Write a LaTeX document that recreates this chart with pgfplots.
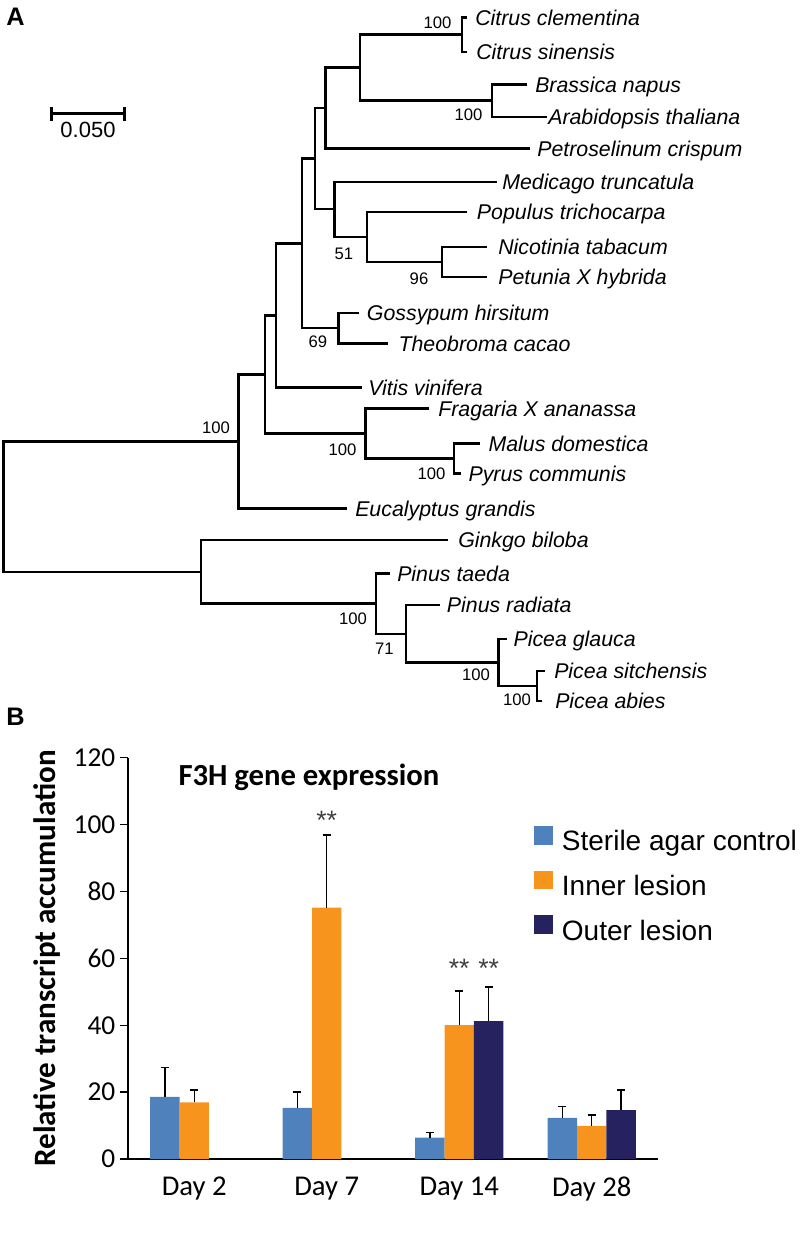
\documentclass[border=0pt]{standalone}
\usepackage{fontspec}
\setmainfont{Liberation Sans}
\newfontfamily\calibri{Carlito}
\usepackage{pgfplots}
\pgfplotsset{compat=1.18}

\definecolor{ctrlblue}{RGB}{79,129,189}
\definecolor{innerorange}{RGB}{247,148,30}
\definecolor{outernavy}{RGB}{38,34,96}

\begin{document}
\begin{tikzpicture}[
  br/.style={black, solid, mark=none, line width=1.8pt, line join=miter},
  tree/.style={font=\fontsize{16}{16}\selectfont\itshape, anchor=base west, inner sep=0pt, yshift=-5.8pt},
  boot/.style={font=\fontsize{12.5}{12.5}\selectfont, inner sep=0pt},
]
\path[use as bounding box] (0,0) rectangle (600pt,-924.75pt);

% panel A: tree, drawn in pixel units
\begin{axis}[
  at={(0pt,0pt)}, anchor=north west,
  scale only axis, width=600pt, height=540pt,
  xmin=0, xmax=800, ymin=0, ymax=720, y dir=reverse,
  enlargelimits=false, hide axis, clip=false,
]
% brackets: (child1) (node,y1) (node,y2) (child2)
\addplot[br] coordinates {(467,17.3)(462,17.3)(462,51.7)(467,51.7)};
\addplot[br] coordinates {(526.7,84.3)(491.7,84.3)(491.7,116.7)(546.7,116.7)};
\addplot[br] coordinates {(462,34.5)(360,34.5)(360,100.5)(491.7,100.5)};
\addplot[br] coordinates {(360,67.5)(325.5,67.5)(325.5,148.3)(530,148.3)};
\addplot[br] coordinates {(486.7,246.7)(441.7,246.7)(441.7,276.7)(486.7,276.7)};
\addplot[br] coordinates {(466.7,211.7)(366.7,211.7)(366.7,261.7)(441.7,261.7)};
\addplot[br] coordinates {(496.7,181.7)(334.5,181.7)(334.5,236.7)(366.7,236.7)};
\addplot[br] coordinates {(325.5,107.9)(315,107.9)(315,209.2)(334.5,209.2)};
\addplot[br] coordinates {(359.3,312.7)(338.3,312.7)(338.3,343.3)(388.3,343.3)};
\addplot[br] coordinates {(315,158.6)(301.7,158.6)(301.7,328)(338.3,328)};
\addplot[br] coordinates {(301.7,243.3)(276,243.3)(276,387.3)(361.7,387.3)};
\addplot[br] coordinates {(480,443.3)(454,443.3)(454,473.3)(460.7,473.3)};
\addplot[br] coordinates {(429.3,408.3)(365.5,408.3)(365.5,458.3)(454,458.3)};
\addplot[br] coordinates {(276,315.3)(265,315.3)(265,433.3)(365.5,433.3)};
\addplot[br] coordinates {(265,374.3)(238.3,374.3)(238.3,508.3)(346.7,508.3)};
\addplot[br] coordinates {(545,671)(537,671)(537,701)(542,701)};
\addplot[br] coordinates {(506.7,639)(498.3,639)(498.3,686)(537,686)};
\addplot[br] coordinates {(440,605)(406,605)(406,662.5)(498.3,662.5)};
\addplot[br] coordinates {(390,573.3)(376,573.3)(376,633.8)(406,633.8)};
\addplot[br] coordinates {(448.3,540)(200.7,540)(200.7,603.5)(376,603.5)};
\addplot[br] coordinates {(238.3,441.3)(3.3,441.3)(3.3,571.8)(200.7,571.8)};
% scale bar
\addplot[br, line width=2.2pt] coordinates {(51.7,113.3)(124.3,113.3)};
\addplot[br, line width=2.2pt] coordinates {(51.7,106.5)(51.7,120.5)};
\addplot[br, line width=2.2pt] coordinates {(124.3,106.5)(124.3,120.5)};
\node[font=\fontsize{16.5}{16.5}\selectfont, inner sep=0pt] at (axis cs:88,129.5) {0.050};

\node[tree] at (axis cs:475,17.3) {Citrus clementina};
\node[tree] at (axis cs:476,51.7) {Citrus sinensis};
\node[tree] at (axis cs:535,84.3) {Brassica napus};
\node[tree] at (axis cs:548,116.7) {Arabidopsis thaliana};
\node[tree] at (axis cs:537,148.3) {Petroselinum crispum};
\node[tree] at (axis cs:502,181.7) {Medicago truncatula};
\node[tree] at (axis cs:476.7,211.7) {Populus trichocarpa};
\node[tree] at (axis cs:498,246.7) {Nicotinia tabacum};
\node[tree] at (axis cs:498,276.7) {Petunia X hybrida};
\node[tree] at (axis cs:366.7,312.7) {Gossypum hirsitum};
\node[tree] at (axis cs:398.3,343.3) {Theobroma cacao};
\node[tree] at (axis cs:368,387.3) {Vitis vinifera};
\node[tree] at (axis cs:438,408.3) {Fragaria X ananassa};
\node[tree] at (axis cs:488.3,443.3) {Malus domestica};
\node[tree] at (axis cs:468.3,473.3) {Pyrus communis};
\node[tree] at (axis cs:355,508.3) {Eucalyptus grandis};
\node[tree] at (axis cs:458,540) {Ginkgo biloba};
\node[tree] at (axis cs:397,573.3) {Pinus taeda};
\node[tree] at (axis cs:446.7,605) {Pinus radiata};
\node[tree] at (axis cs:513.3,639) {Picea glauca};
\node[tree] at (axis cs:554,671) {Picea sitchensis};
\node[tree] at (axis cs:555,701) {Picea abies};

\node[boot] at (axis cs:437.5,22.5) {100};
\node[boot] at (axis cs:468.5,115) {100};
\node[boot] at (axis cs:344,253.5) {51};
\node[boot] at (axis cs:419,278.3) {96};
\node[boot] at (axis cs:318,341.7) {69};
\node[boot] at (axis cs:216,427.3) {100};
\node[boot] at (axis cs:342.5,449.3) {100};
\node[boot] at (axis cs:431.5,473.3) {100};
\node[boot] at (axis cs:353,618.3) {100};
\node[boot] at (axis cs:384.5,648.3) {71};
\node[boot] at (axis cs:476,675) {100};
\node[boot] at (axis cs:517,700) {100};

\node[font=\fontsize{19}{19}\selectfont\bfseries, anchor=base west, inner sep=0pt] at (axis cs:6,25) {A};
\node[font=\fontsize{19}{19}\selectfont\bfseries, anchor=base west, inner sep=0pt] at (axis cs:6,725) {B};
\end{axis}

% panel B: bar chart
\begin{axis}[
  at={(96pt,-869.25pt)}, anchor=south west,
  scale only axis, width=397.5pt, height=301pt,
  xmin=-0.5, xmax=3.5, ymin=0, ymax=120,
  axis x line=bottom, axis y line=left,
  axis line style={-, line width=1.1pt, black},
  ytick={0,20,...,120},
  xtick={0,1,2,3}, xticklabels={Day 2,Day 7,Day 14,Day 28},
  x tick style={draw=none},
  y tick style={line width=1.1pt, black},
  tick align=outside, major tick length=6pt,
  /pgf/number format/assume math mode=true,
  yticklabel style={font=\calibri\fontsize{20.5}{20.5}\selectfont},
  xticklabel style={font=\calibri\fontsize{21.5}{21.5}\selectfont, yshift=-4pt},
  ylabel={Relative transcript accumulation},
  ylabel style={font=\calibri\bfseries\fontsize{23.3}{23.3}\selectfont,
    at={(axis description cs:-0.152,0.5)}, anchor=center, rotate=0},
  title={F3H gene expression},
  title style={font=\calibri\bfseries\fontsize{23}{23}\selectfont,
    at={(axis description cs:0.3415,0.911)}, anchor=base},
  ybar=0pt, bar width=22.1pt,
  clip=false,
  legend style={at={(axis description cs:0.7585,0.837)}, anchor=north west,
    draw=none, fill=none, font=\fontsize{21}{21}\selectfont,
    nodes={inner sep=0pt, text height=15pt, text depth=5pt},
    row sep=10pt,
    /tikz/every odd column/.append style={column sep=6.75pt}},
  legend cell align=left,
  legend image code/.code={\fill[#1] (0pt,-0.5pt) rectangle (14pt,13.5pt);},
]
\addplot[fill=ctrlblue, draw=none,
  error bars/.cd, y dir=plus, y explicit,
  error mark options={rotate=90, mark size=3pt, line width=1.1pt, black},
  error bar style={line width=1.1pt, black}]
  coordinates {(0,18.6) +- (0,8.8) (1,15.3) +- (0,4.7) (2,6.4) +- (0,1.6) (3,12.3) +- (0,3.4)};
\addplot[fill=innerorange, draw=none,
  error bars/.cd, y dir=plus, y explicit,
  error mark options={rotate=90, mark size=3pt, line width=1.1pt, black},
  error bar style={line width=1.1pt, black}]
  coordinates {(0,16.9) +- (0,3.7) (1,75.2) +- (0,21.7) (2,40.0) +- (0,10.3) (3,9.9) +- (0,3.2)};
\addplot[fill=outernavy, draw=none,
  error bars/.cd, y dir=plus, y explicit,
  error mark options={rotate=90, mark size=3pt, line width=1.1pt, black},
  error bar style={line width=1.1pt, black}]
  coordinates {(2,41.2) +- (0,10.3) (3,14.6) +- (0,6.0)};
\legend{Sterile agar control, Inner lesion, Outer lesion}
\node[font=\fontsize{20}{20}\selectfont, text=black!75, anchor=base, inner sep=0pt] at (axis cs:1,98.6) {**};
\node[font=\fontsize{20}{20}\selectfont, text=black!75, anchor=base, inner sep=0pt] at (axis cs:2,54.2) {**};
\node[font=\fontsize{20}{20}\selectfont, text=black!75, anchor=base, inner sep=0pt] at (axis cs:2.2226,54.2) {**};
\end{axis}
\end{tikzpicture}
\end{document}
